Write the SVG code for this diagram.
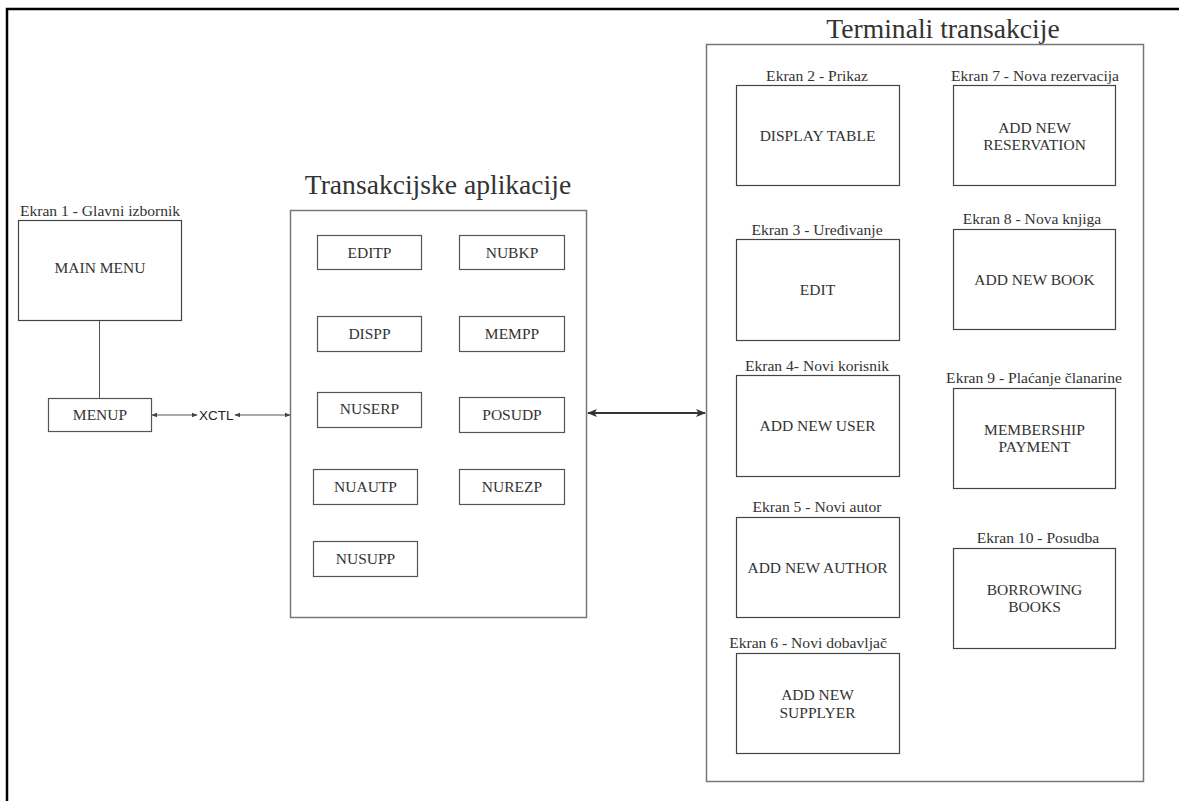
<svg xmlns="http://www.w3.org/2000/svg" width="1179" height="801" viewBox="0 0 1179 801">
<defs>
<style>
.frame{fill:none;stroke:#000;stroke-width:2.5}
.cont{fill:#fff;stroke:#777;stroke-width:1.5}
.box{fill:#fff;stroke:#444;stroke-width:1.2}
.sbox{fill:#fff;stroke:#555;stroke-width:1.2}
.t{font-family:"Liberation Serif","Times New Roman",serif;fill:#333;text-anchor:middle}
.bt{font-size:15.5px}
.lb{font-size:15.6px}
.title{font-size:27.6px}
.sans{font-family:"Liberation Sans",Arial,sans-serif;font-size:13.5px;fill:#222}
.thin{stroke:#555;stroke-width:1;fill:none}
.thick{stroke:#333;stroke-width:2;fill:none}
</style>
<marker id="ah" viewBox="0 0 10 10" refX="9" refY="5" markerWidth="6" markerHeight="6" orient="auto-start-reverse" markerUnits="userSpaceOnUse">
<path d="M0,1 L10,5 L0,9 Z" fill="#444"/>
</marker>
<marker id="ahb" viewBox="0 0 10 10" refX="9" refY="5" markerWidth="10" markerHeight="10" orient="auto-start-reverse" markerUnits="userSpaceOnUse">
<path d="M0,1 L10,5 L0,9 L2.5,5 Z" fill="#333"/>
</marker>
</defs>
<rect width="1179" height="801" fill="#fff"/>
<path class="frame" d="M7,801 V9 H1179"/>

<g id="containers">
<text class="t title" x="438" y="194">Transakcijske aplikacije</text>
<rect class="cont" x="290.5" y="210.5" width="296" height="407"/>
<text class="t title" x="943" y="38">Terminali transakcije</text>
<rect class="cont" x="706.5" y="44.5" width="437" height="737"/>
</g>

<g id="connectors">
<line class="thin" x1="99.5" y1="320" x2="99.5" y2="398"/>
<line class="thin" x1="152" y1="415" x2="197" y2="415" marker-start="url(#ah)" marker-end="url(#ah)"/>
<line class="thin" x1="235" y1="415" x2="290" y2="415" marker-start="url(#ah)" marker-end="url(#ah)"/>
<line class="thick" x1="588" y1="413" x2="705" y2="413" marker-start="url(#ahb)" marker-end="url(#ahb)"/>
<text class="sans" x="199" y="420">XCTL</text>
</g>

<g id="ekran1">
<text class="t lb" x="100" y="216">Ekran 1 - Glavni izbornik</text>
<rect class="box" x="18.5" y="220.5" width="163" height="100"/>
<text class="t bt" x="100" y="273">MAIN MENU</text>
</g>
<g id="menup">
<rect class="sbox" x="48.5" y="398.5" width="103" height="33"/>
<text class="t bt" x="100" y="420">MENUP</text>
</g>

<g id="editp"><rect class="sbox" x="317.5" y="235.5" width="104" height="34"/><text class="t bt" x="369.5" y="258">EDITP</text></g>
<g id="nubkp"><rect class="sbox" x="459.5" y="235.5" width="105" height="34"/><text class="t bt" x="512" y="258">NUBKP</text></g>
<g id="dispp"><rect class="sbox" x="317.5" y="316.5" width="104" height="35"/><text class="t bt" x="369.5" y="339">DISPP</text></g>
<g id="mempp"><rect class="sbox" x="459.5" y="316.5" width="105" height="35"/><text class="t bt" x="512" y="339">MEMPP</text></g>
<g id="nuserp"><rect class="sbox" x="317.5" y="392.5" width="104" height="35"/><text class="t bt" x="369.5" y="414">NUSERP</text></g>
<g id="posudp"><rect class="sbox" x="459.5" y="397.5" width="105" height="35"/><text class="t bt" x="512" y="420">POSUDP</text></g>
<g id="nuautp"><rect class="sbox" x="313.5" y="469.5" width="104" height="35"/><text class="t bt" x="365.5" y="492">NUAUTP</text></g>
<g id="nurezp"><rect class="sbox" x="459.5" y="469.5" width="105" height="35"/><text class="t bt" x="512" y="492">NUREZP</text></g>
<g id="nusupp"><rect class="sbox" x="313.5" y="541.5" width="104" height="35"/><text class="t bt" x="365.5" y="564">NUSUPP</text></g>

<g id="ekran2">
<text class="t lb" x="817" y="81">Ekran 2 - Prikaz</text>
<rect class="box" x="736.5" y="85.5" width="163" height="100"/>
<text class="t bt" x="817.5" y="141">DISPLAY TABLE</text>
</g>
<g id="ekran7">
<text class="t lb" x="1035" y="81">Ekran 7 - Nova rezervacija</text>
<rect class="box" x="953.5" y="85.5" width="162" height="100"/>
<text class="t bt" x="1034.5" y="133">ADD NEW</text>
<text class="t bt" x="1034.5" y="150">RESERVATION</text>
</g>
<g id="ekran3">
<text class="t lb" x="817" y="235">Ekran 3 - Uređivanje</text>
<rect class="box" x="736.5" y="239.5" width="163" height="101"/>
<text class="t bt" x="817.5" y="295">EDIT</text>
</g>
<g id="ekran8">
<text class="t lb" x="1032" y="224">Ekran 8 - Nova knjiga</text>
<rect class="box" x="953.5" y="229.5" width="162" height="100"/>
<text class="t bt" x="1034.5" y="285">ADD NEW BOOK</text>
</g>
<g id="ekran4">
<text class="t lb" x="817" y="371">Ekran 4- Novi korisnik</text>
<rect class="box" x="736.5" y="375.5" width="163" height="101"/>
<text class="t bt" x="817.5" y="431">ADD NEW USER</text>
</g>
<g id="ekran9">
<text class="t lb" x="1034" y="383">Ekran 9 - Plaćanje članarine</text>
<rect class="box" x="953.5" y="388.5" width="162" height="100"/>
<text class="t bt" x="1034.5" y="435">MEMBERSHIP</text>
<text class="t bt" x="1034.5" y="452">PAYMENT</text>
</g>
<g id="ekran5">
<text class="t lb" x="817" y="512">Ekran 5 - Novi autor</text>
<rect class="box" x="736.5" y="517.5" width="163" height="100"/>
<text class="t bt" x="817.5" y="573">ADD NEW AUTHOR</text>
</g>
<g id="ekran10">
<text class="t lb" x="1038" y="543">Ekran 10 - Posudba</text>
<rect class="box" x="953.5" y="548.5" width="162" height="100"/>
<text class="t bt" x="1034.5" y="595">BORROWING</text>
<text class="t bt" x="1034.5" y="612">BOOKS</text>
</g>
<g id="ekran6">
<text class="t lb" x="808" y="648">Ekran 6 - Novi dobavljač</text>
<rect class="box" x="736.5" y="653.5" width="163" height="100"/>
<text class="t bt" x="817.5" y="700">ADD NEW</text>
<text class="t bt" x="817.5" y="718">SUPPLYER</text>
</g>
</svg>
